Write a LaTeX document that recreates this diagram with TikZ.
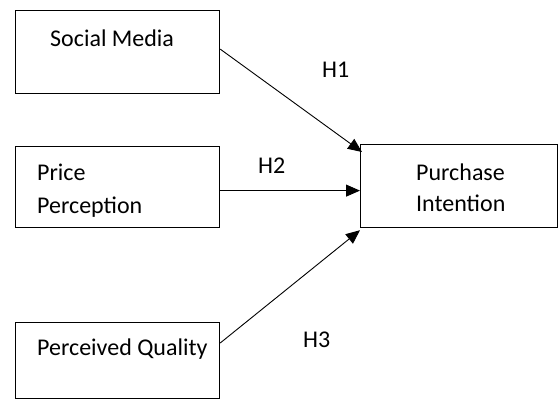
\documentclass[tikz,border=0pt]{standalone}
\usepackage{fontspec}
\setmainfont{Carlito}
\usetikzlibrary{arrows.meta}

\begin{document}
\begin{tikzpicture}[x=1pt, y=-1pt, font=\fontsize{24}{30}\selectfont]
\useasboundingbox (0,0) rectangle (558,400);
\tikzset{
  box/.style={draw, line width=1.2pt, minimum width=204pt, minimum height=83pt, inner sep=0pt, anchor=north west},
  txt/.style={inner sep=0pt, anchor=base west},
  hyp/.style={-{Triangle[length=14pt,width=12pt]}, line width=0.9pt}
}

% Cadres des variables
\node[box] (sm) at (15,10) {};
\node[box, minimum height=81pt] (pp) at (15,146) {};
\node[box, minimum height=76pt] (pq) at (15,322) {};
\node[box, minimum width=197pt] (pi) at (360,144) {};

% Textes dans les cadres
\node[txt] (tsm) at (50,46) {Social Media};
\node[txt] (tpp1) at (37,180) {Price};
\node[txt] (tpp2) at (37,213) {Perception};
\node[txt] (tpq) at (37,355) {Perceived Quality};
\node[txt] (tpi1) at (416,180) {Purchase};
\node[txt] (tpi2) at (416,211) {Intention};

% Hypotheses
\draw[hyp] ([yshift=3pt]sm.east) -- ([xshift=2pt,yshift=-8pt]pi.north west);
\draw[hyp] ([yshift=-3.5pt]pp.east) -- ([yshift=-4.5pt]pi.west);
\draw[hyp] ([yshift=-21pt]pq.north east) -- ([yshift=-2pt]pi.south west);

% Etiquettes H1 H2 H3
\node[txt] (h1) at (322,77) {H1};
\node[txt] (h2) at (258,173) {H2};
\node[txt] (h3) at (303,347) {H3};

\end{tikzpicture}
\end{document}
